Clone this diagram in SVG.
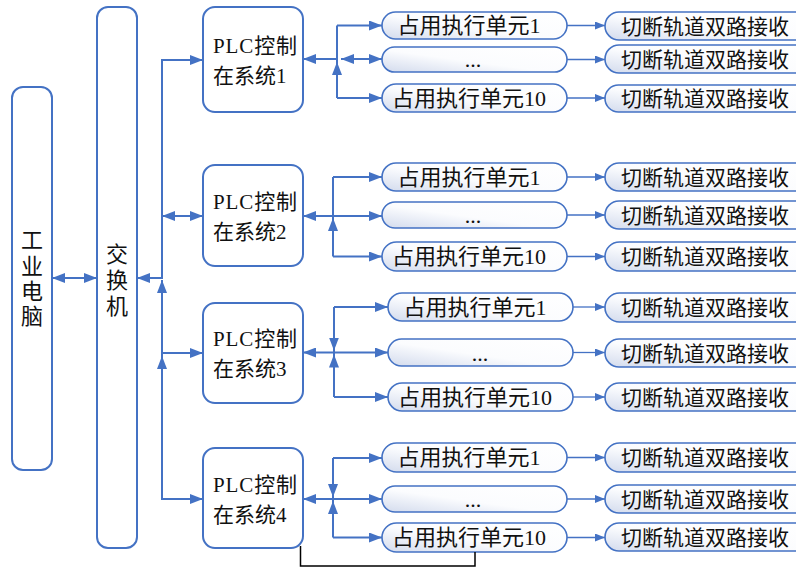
<svg xmlns="http://www.w3.org/2000/svg" width="796" height="570" viewBox="0 0 796 570">
<style>
.big{fill:#fff;stroke:#4472c4;stroke-width:2}
.pill{fill:url(#g);stroke:#4472c4;stroke-width:1.6}
.c{fill:none;stroke:#4472c4;stroke-width:2}
.cs{fill:none;stroke:#4472c4;stroke-width:1.3}
.t{font-family:"Liberation Serif","Noto Sans CJK SC",serif;fill:#111}
.v{font-size:22px;text-anchor:middle}
.p{font-size:21px}
.u{font-size:22px;text-anchor:middle}
.k{font-size:21px}
</style>
<defs>
<linearGradient id="g" x1="1" y1="0" x2="0" y2="1">
<stop offset="0" stop-color="#ffffff"/>
<stop offset="0.55" stop-color="#fbfcfe"/>
<stop offset="1" stop-color="#d3dbed"/>
</linearGradient>
<marker id="a" markerWidth="13" markerHeight="10" refX="13" refY="5" orient="auto-start-reverse" markerUnits="userSpaceOnUse"><path d="M0,0L13,5L0,10z" fill="#4472c4"/></marker>
<marker id="s" markerWidth="10" markerHeight="8" refX="10" refY="4" orient="auto-start-reverse" markerUnits="userSpaceOnUse"><path d="M0,0L10,4L0,8z" fill="#4472c4"/></marker>
</defs>

<g id="pc"><rect class="big" x="12" y="87" width="40" height="383" rx="11"/>
<text class="t v" x="32"><tspan x="32" y="248">工</tspan><tspan x="32" y="274">业</tspan><tspan x="32" y="299">电</tspan><tspan x="32" y="324">脑</tspan></text></g>

<g id="switch"><rect class="big" x="97" y="7" width="40" height="541" rx="11"/>
<text class="t v" x="117"><tspan x="117" y="262">交</tspan><tspan x="117" y="288">换</tspan><tspan x="117" y="314">机</tspan></text></g>

<g id="plc1"><rect class="big" x="203" y="7" width="100" height="105" rx="12"/>
<text class="t p" x="213" y="53" textLength="84" lengthAdjust="spacing">PLC控制</text><text class="t p" x="213" y="83">在系统1</text></g>
<g id="plc2"><rect class="big" x="203" y="165" width="100" height="101" rx="12"/>
<text class="t p" x="213" y="209" textLength="84" lengthAdjust="spacing">PLC控制</text><text class="t p" x="213" y="239">在系统2</text></g>
<g id="plc3"><rect class="big" x="203" y="303" width="100" height="100" rx="12"/>
<text class="t p" x="213" y="346" textLength="84" lengthAdjust="spacing">PLC控制</text><text class="t p" x="213" y="376">在系统3</text></g>
<g id="plc4"><rect class="big" x="203" y="448" width="100" height="100" rx="12"/>
<text class="t p" x="213" y="492" textLength="84" lengthAdjust="spacing">PLC控制</text><text class="t p" x="213" y="522">在系统4</text></g>

<g id="u1-1"><rect class="pill" x="382" y="12" width="185" height="27" rx="13.5"/><text class="t u" x="469" y="33">占用执行单元1</text></g>
<g id="u1-2"><rect class="pill" x="382" y="47" width="185" height="25" rx="12.5"/><text class="t u" x="473" y="67">...</text></g>
<g id="u1-3"><rect class="pill" x="382" y="84" width="185" height="28" rx="14"/><text class="t u" x="469" y="105.5">占用执行单元10</text></g>
<g id="u2-1"><rect class="pill" x="382" y="163" width="185" height="28" rx="14"/><text class="t u" x="469" y="184.5">占用执行单元1</text></g>
<g id="u2-2"><rect class="pill" x="382" y="202" width="185" height="26" rx="13"/><text class="t u" x="473" y="223">...</text></g>
<g id="u2-3"><rect class="pill" x="382" y="242" width="185" height="29" rx="14.5"/><text class="t u" x="469" y="264">占用执行单元10</text></g>
<g id="u3-1"><rect class="pill" x="388" y="293" width="185" height="28" rx="14"/><text class="t u" x="475" y="314.5">占用执行单元1</text></g>
<g id="u3-2"><rect class="pill" x="388" y="339" width="185" height="27" rx="13.5"/><text class="t u" x="480" y="361">...</text></g>
<g id="u3-3"><rect class="pill" x="388" y="383" width="185" height="28" rx="14"/><text class="t u" x="475" y="404.5">占用执行单元10</text></g>
<g id="u4-1"><rect class="pill" x="382" y="443" width="185" height="29" rx="14.5"/><text class="t u" x="469" y="465">占用执行单元1</text></g>
<g id="u4-2"><rect class="pill" x="382" y="486" width="185" height="26" rx="13"/><text class="t u" x="473" y="507">...</text></g>
<g id="u4-3"><rect class="pill" x="382" y="523" width="185" height="29" rx="14.5"/><text class="t u" x="469" y="545">占用执行单元10</text></g>

<g id="k1-1"><rect class="pill" x="605" y="12" width="205" height="28" rx="14"/><text class="t k" x="621" y="33.5">切断轨道双路接收</text></g>
<g id="k1-2"><rect class="pill" x="605" y="45" width="205" height="28" rx="14"/><text class="t k" x="621" y="66.5">切断轨道双路接收</text></g>
<g id="k1-3"><rect class="pill" x="605" y="85" width="205" height="27" rx="13.5"/><text class="t k" x="621" y="106">切断轨道双路接收</text></g>
<g id="k2-1"><rect class="pill" x="605" y="163" width="205" height="28" rx="14"/><text class="t k" x="621" y="184.5">切断轨道双路接收</text></g>
<g id="k2-2"><rect class="pill" x="605" y="201" width="205" height="28" rx="14"/><text class="t k" x="621" y="222.5">切断轨道双路接收</text></g>
<g id="k2-3"><rect class="pill" x="605" y="242" width="205" height="29" rx="14.5"/><text class="t k" x="621" y="264">切断轨道双路接收</text></g>
<g id="k3-1"><rect class="pill" x="605" y="293" width="205" height="29" rx="14.5"/><text class="t k" x="621" y="315">切断轨道双路接收</text></g>
<g id="k3-2"><rect class="pill" x="605" y="339" width="205" height="28" rx="14"/><text class="t k" x="621" y="360.5">切断轨道双路接收</text></g>
<g id="k3-3"><rect class="pill" x="605" y="383" width="205" height="28" rx="14"/><text class="t k" x="621" y="404.5">切断轨道双路接收</text></g>
<g id="k4-1"><rect class="pill" x="605" y="443" width="205" height="29" rx="14.5"/><text class="t k" x="621" y="465">切断轨道双路接收</text></g>
<g id="k4-2"><rect class="pill" x="605" y="485" width="205" height="28" rx="14"/><text class="t k" x="621" y="506.5">切断轨道双路接收</text></g>
<g id="k4-3"><rect class="pill" x="605" y="523" width="205" height="28" rx="14"/><text class="t k" x="621" y="544.5">切断轨道双路接收</text></g>

<g id="connectors">
<path class="c" d="M52,278H97" marker-start="url(#a)" marker-end="url(#a)"/>
<path class="c" d="M137,278H162V60H203" marker-start="url(#a)" marker-end="url(#a)"/>
<path class="c" d="M162,216H203" marker-start="url(#a)" marker-end="url(#a)"/>
<path class="c" d="M162,280V499H203" marker-start="url(#a)" marker-end="url(#a)"/>
<path class="c" d="M162,353H203" marker-end="url(#a)"/>
<path class="c" d="M162,356V430" marker-start="url(#a)"/>

<path class="c" d="M303,59H337" marker-start="url(#a)"/>
<path class="c" d="M337,25.5V98"/>
<path class="c" d="M337,25.5H382" marker-end="url(#a)"/>
<path class="c" d="M337,98H382" marker-end="url(#a)"/>
<path class="c" d="M341,59H382" marker-start="url(#a)" marker-end="url(#a)"/>
<path class="c" d="M337,62V90" marker-start="url(#a)"/>

<path class="c" d="M303,216H382" marker-start="url(#a)" marker-end="url(#a)"/>
<path class="c" d="M333,177V256.5"/>
<path class="c" d="M333,177H382" marker-end="url(#a)"/>
<path class="c" d="M333,256.5H382" marker-end="url(#a)"/>
<path class="c" d="M333,218V245" marker-start="url(#a)"/>

<path class="c" d="M303,352.5H388" marker-start="url(#a)" marker-end="url(#a)"/>
<path class="c" d="M334,307V397"/>
<path class="c" d="M334,307H388" marker-end="url(#a)"/>
<path class="c" d="M334,397H388" marker-end="url(#a)"/>
<path class="c" d="M334,350.5V318" marker-start="url(#a)"/>
<path class="c" d="M334,354.5V386" marker-start="url(#a)"/>

<path class="c" d="M303,499H382" marker-start="url(#a)" marker-end="url(#a)"/>
<path class="c" d="M333,458V537.5"/>
<path class="c" d="M333,458H382" marker-end="url(#a)"/>
<path class="c" d="M333,537.5H382" marker-end="url(#a)"/>
<path class="c" d="M333,497V466" marker-start="url(#a)"/>
<path class="c" d="M333,501V530" marker-start="url(#a)"/>

<path class="cs" d="M567,25.5H605" marker-end="url(#s)"/>
<path class="cs" d="M567,59.5H605" marker-end="url(#s)"/>
<path class="cs" d="M567,98H605" marker-end="url(#s)"/>
<path class="cs" d="M567,177H605" marker-end="url(#s)"/>
<path class="cs" d="M567,215H605" marker-end="url(#s)"/>
<path class="cs" d="M567,256.5H605" marker-end="url(#s)"/>
<path class="cs" d="M573,307H605" marker-end="url(#s)"/>
<path class="cs" d="M573,352.5H605" marker-end="url(#s)"/>
<path class="cs" d="M573,397H605" marker-end="url(#s)"/>
<path class="cs" d="M567,457.5H605" marker-end="url(#s)"/>
<path class="cs" d="M567,499H605" marker-end="url(#s)"/>
<path class="cs" d="M567,537.5H605" marker-end="url(#s)"/>

<path d="M300.5,546V566H475V552" fill="none" stroke="#000" stroke-width="1.5"/>
</g>
</svg>
